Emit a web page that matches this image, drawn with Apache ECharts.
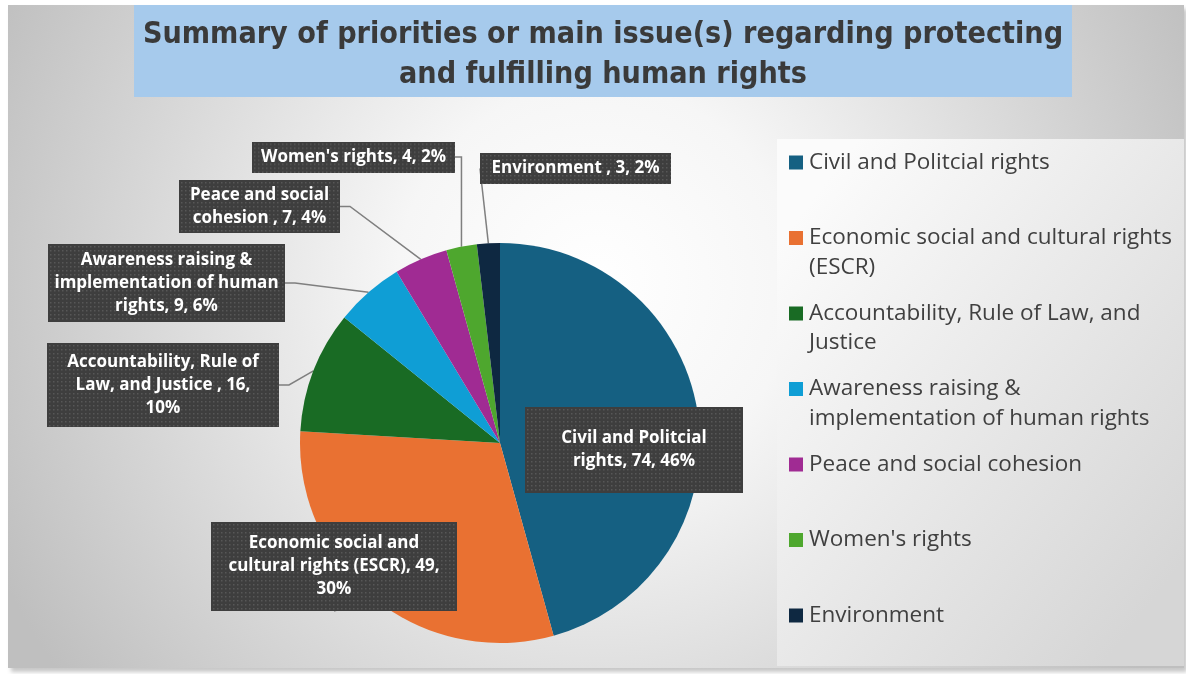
<!DOCTYPE html>
<html>
<head>
<meta charset="utf-8">
<script src="https://cdn.jsdelivr.net/npm/echarts@6/dist/echarts.min.js"></script>
<style>
  html, body { margin: 0; padding: 0; background: #ffffff; }
  #chart { width: 1186px; height: 674px; }
</style>
</head>
<body>
<div id="chart"></div>
<script>
// ---- data ----
const categories = [
  'Civil and Politcial rights',
  'Economic social and cultural rights (ESCR)',
  'Accountability, Rule of Law, and Justice ',
  'Awareness raising & implementation of human rights',
  'Peace and social cohesion ',
  "Women's rights",
  'Environment '
];
const counts = [74, 49, 16, 9, 7, 4, 3];
const sliceColors = ['#156082', '#E97132', '#196B24', '#0F9ED5', '#A02B93', '#4EA72E', '#0E2841'];
const titleLines = [
  'Summary of priorities or main issue(s) regarding protecting',
  'and fulfilling human rights'
];

// ---- label layout: box centre x, centre y, box width, box height ----
const labelBoxes = [
  [634, 450, 218, 86],
  [334, 566.5, 246, 89],
  [163, 385, 232, 84],
  [166.5, 283, 237, 78],
  [259.5, 206.5, 161, 53],
  [353.5, 157, 203, 31],
  [575.5, 168.5, 191, 31]
];
// word index at which each new line of a label starts
const labelLineStarts = [[3], [3, 7], [3, 8], [3, 6], [3], [], []];
const legendLineStarts = [[], [5], [5], [3], [], [], []];

const LABEL_LINE_HEIGHT = 23;
const LABEL_PAD_X = 6;
const LEGEND_LINE_HEIGHT = 29.5;
const LABEL_FONT = '"Open Sans", "Noto Sans", sans-serif';
const TITLE_FONT = '"Liberation Sans Narrow", "DejaVu Sans Condensed", "Roboto Condensed", Roboto, sans-serif';

function wrapWords(text, starts) {
  const words = text.split(' ');
  const lines = [];
  let cur = [];
  words.forEach((w, i) => {
    if (starts.indexOf(i) >= 0 && cur.length) { lines.push(cur.join(' ')); cur = []; }
    cur.push(w);
  });
  lines.push(cur.join(' '));
  return lines.join('\n');
}

// dark dotted fill used behind the data labels
function dotPattern(w, h) {
  const c = document.createElement('canvas');
  c.width = Math.round(w);
  c.height = Math.round(h);
  const g = c.getContext('2d');
  g.fillStyle = '#3e3e3e';
  g.fillRect(0, 0, c.width, c.height);
  g.fillStyle = '#575757';
  for (let y = 2; y < c.height; y += 4) {
    for (let x = 2; x < c.width; x += 4) g.fillRect(x, y, 1.5, 1.5);
  }
  return c;
}

const pieData = categories.map((name, i) => {
  const b = labelBoxes[i];
  const nLines = labelLineStarts[i].length + 1;
  const padY = (b[3] - nLines * LABEL_LINE_HEIGHT) / 2;
  return {
    name: name,
    value: counts[i],
    itemStyle: { color: sliceColors[i] },
    label: {
      width: b[2] - 2 * LABEL_PAD_X,
      padding: [padY, LABEL_PAD_X],
      backgroundColor: { image: dotPattern(b[2], b[3]) }
    },
    labelLine: { show: i !== 0 }
  };
});

// legend: coloured square drawn as a rich-text token so it sits on the first line
const legendRich = {
  gap: { width: 6, lineHeight: LEGEND_LINE_HEIGHT },
  ind: { width: 20, lineHeight: LEGEND_LINE_HEIGHT }
};
sliceColors.forEach((c, i) => {
  legendRich['sq' + i] = { width: 14, height: 14, backgroundColor: c, lineHeight: LEGEND_LINE_HEIGHT };
});

const titleRich = {
  c: {
    align: 'center',
    fontFamily: TITLE_FONT,
    fontSize: 30.2,
    fontWeight: 'bold',
    color: '#3a3a3a',
    lineHeight: 40
  }
};

const chart = echarts.init(document.getElementById('chart'), null, { renderer: 'canvas' });

chart.setOption({
  backgroundColor: '#ffffff',
  animation: false,
  title: {
    text: titleLines.map(t => '{c|' + t + '}').join('\n'),
    left: 134,
    top: 5,
    textAlign: 'left',
    backgroundColor: '#a6caec',
    padding: [10, 0, 2, 0],
    textStyle: {
      width: 938,
      fontFamily: TITLE_FONT,
      fontSize: 30.2,
      fontWeight: 'bold',
      color: '#3a3a3a',
      lineHeight: 40,
      rich: titleRich
    }
  },
  graphic: [
    {
      type: 'rect',
      z: -10,
      shape: { x: 8, y: 5, width: 1176, height: 663 },
      style: {
        fill: {
          type: 'radial', x: 0.5, y: 0.42, r: 1.0,
          colorStops: [
            { offset: 0, color: '#ffffff' },
            { offset: 0.3, color: '#f6f6f6' },
            { offset: 1, color: '#bfbfbf' }
          ]
        },
        shadowColor: 'rgba(0,0,0,0.22)',
        shadowBlur: 4,
        shadowOffsetX: 3,
        shadowOffsetY: 4
      }
    },
    {
      type: 'rect',
      z: -9,
      shape: { x: 777, y: 139, width: 407, height: 527 },
      style: {
        fill: {
          type: 'linear', x: 0, y: 0.2, x2: 1, y2: 0.8,
          colorStops: [
            { offset: 0, color: '#fbfbfb' },
            { offset: 1, color: '#d6d6d6' }
          ]
        }
      }
    }
  ],
  legend: {
    orient: 'vertical',
    left: 784,
    top: 147.75,
    padding: 0,
    icon: 'rect',
    itemWidth: 0,
    itemHeight: 0,
    itemGap: 75.5 - 2 * LEGEND_LINE_HEIGHT,
    data: categories,
    formatter: function (name) {
      const i = categories.indexOf(name);
      const lines = wrapWords(name.trim(), legendLineStarts[i]).split('\n');
      if (lines.length < 2) lines.push('');
      return '{sq' + i + '|}{gap|}' + lines[0] + '\n{ind|}' + lines[1];
    },
    textStyle: {
      fontFamily: LABEL_FONT,
      fontSize: 22.5,
      color: '#404040',
      lineHeight: LEGEND_LINE_HEIGHT,
      rich: legendRich
    }
  },
  series: [{
    type: 'pie',
    center: [500, 443],
    radius: 200,
    startAngle: 90,
    clockwise: true,
    percentPrecision: 0,
    avoidLabelOverlap: false,
    emphasis: { scale: false },
    label: {
      show: true,
      position: 'outside',
      color: '#ffffff',
      fontFamily: LABEL_FONT,
      fontWeight: 'bold',
      fontSize: 17,
      lineHeight: LABEL_LINE_HEIGHT,
      align: 'center',
      overflow: 'none',
      shadowColor: 'rgba(0,0,0,0.45)',
      shadowBlur: 6,
      shadowOffsetX: 3,
      shadowOffsetY: 3,
      formatter: function (p) {
        return wrapWords(p.name + ', ' + p.value + ', ' + p.percent + '%', labelLineStarts[p.dataIndex]);
      }
    },
    labelLine: {
      show: true,
      length: 10,
      length2: 10,
      lineStyle: { color: '#7f7f7f', width: 1.5 }
    },
    labelLayout: function (params) {
      const b = labelBoxes[params.dataIndex];
      return { x: b[0], y: b[1], align: 'center', verticalAlign: 'middle' };
    },
    data: pieData
  }]
});
</script>
</body>
</html>
